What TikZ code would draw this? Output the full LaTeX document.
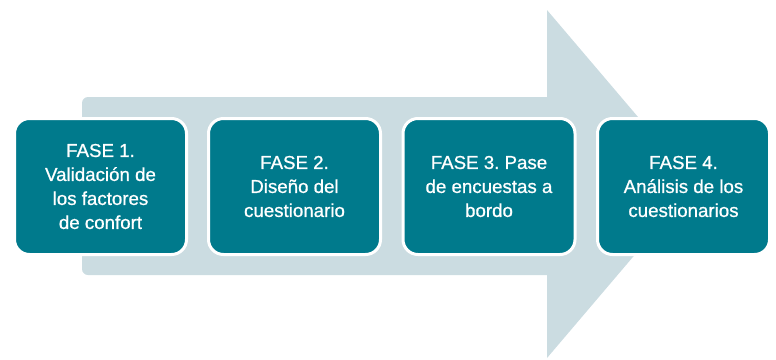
\documentclass[tikz,border=0pt]{standalone}
\usepackage{fontspec}
\setmainfont{Liberation Sans}
\newfontfamily\fasefont[FakeBold=0.8]{Liberation Sans}
\usepackage{tikz}
\usetikzlibrary{positioning}
\definecolor{faseteal}{RGB}{0,122,140}
\definecolor{flecha}{RGB}{203,220,225}
\tikzset{%
    fase/.style={
		draw=white,
		line width=3pt,
		fill=faseteal,
		rounded corners=15pt,
		minimum width=172pt,
		minimum height=136pt,
		text=white,
		align=center,
		font=\fasefont\fontsize{18.7}{24}\selectfont\frenchspacing
	}
}

\begin{document}
\begin{tikzpicture}[x=1pt,y=-1pt]
		\useasboundingbox (0,0) rectangle (776,359);

		% big arrow in the background
		\fill[flecha] (547,97) -- (547,10) -- (695,184) -- (547,358) -- (547,275)
			[rounded corners=6pt] -- (82,275) -- (82,97) [sharp corners] -- cycle;

		\node[fase] (f1) at (100.5,186.5) {FASE 1.\\Validación de\\los factores\\de confort};
		\node[fase] (f2) at (294.5,186.5) {FASE 2.\\Diseño del\\cuestionario};
		\node[fase] (f3) at (489,186.5) {FASE 3. Pase\\de encuestas a\\bordo};
		\node[fase] (f4) at (683.5,186.5) {FASE 4.\\Análisis de los\\cuestionarios};
	\end{tikzpicture}
\end{document}
